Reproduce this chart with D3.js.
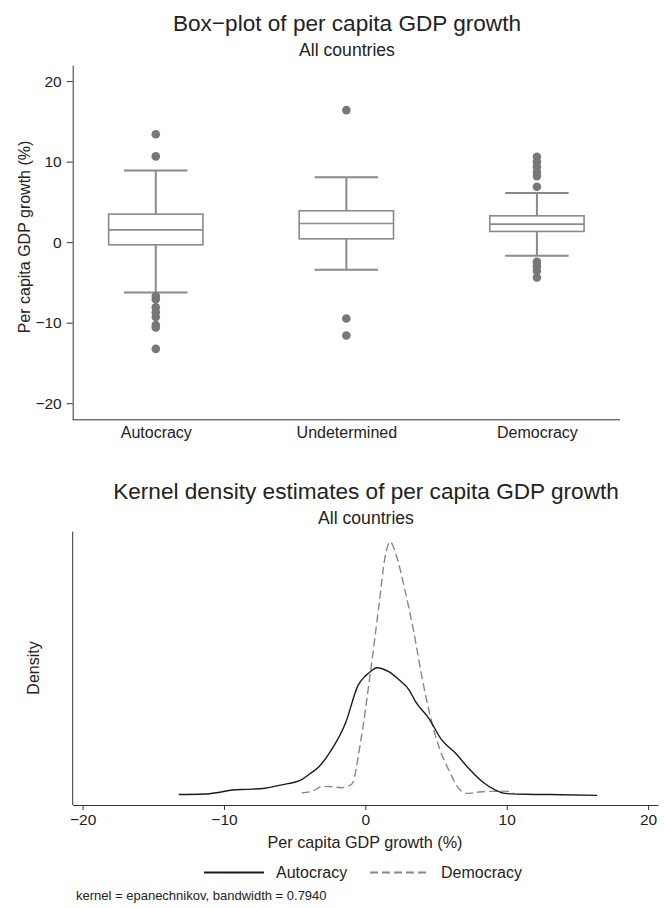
<!DOCTYPE html>
<html>
<head>
<meta charset="utf-8">
<script src="https://cdn.jsdelivr.net/npm/d3@7"></script>
<style>
  body { margin: 0; background: #fff; }
  text { font-family: "Liberation Sans", Arial, Helvetica, sans-serif; fill: #222; }
</style>
</head>
<body>
<svg id="svg" width="664" height="908"></svg>
<script>
// box-plot data (per capita GDP growth, %)
var groups = ["Autocracy", "Undetermined", "Democracy"];
var q1 = [-0.33, 0.41, 1.33];
var medians = [1.53, 2.32, 2.24];
var q3 = [3.48, 3.9, 3.27];
var whiskerLo = [-6.25, -3.44, -1.7];
var whiskerHi = [8.9, 8.07, 6.09];
var outliers = [
  [13.4, 10.65, -6.7, -7.1, -8.1, -8.7, -9.3, -10.3, -10.6, -13.25],
  [16.4, -9.48, -11.6],
  [6.87, 8.2, 8.73, 9.36, 9.98, 10.6, -2.45, -2.98, -3.56, -4.39]
];
var boxTicks = [-20, -10, 0, 10, 20];

// kernel density points
var autocracyX = [-13.2, -11.4, -10.5, -9.4, -8.4, -7.1, -6.0, -4.5, -3.9, -3.3, -2.4, -1.4, -0.5, 0.0, 0.35, 0.8, 1.65, 2.4, 3.1, 3.55, 4.5, 5.4, 6.4, 7.3, 8.3, 9.2, 9.9, 11.3, 13.0, 16.4];
var autocracyY = [0.0011, 0.0015, 0.0025, 0.0045, 0.005, 0.0058, 0.0082, 0.0123, 0.0168, 0.0217, 0.0344, 0.0546, 0.083, 0.0897, 0.0929, 0.0959, 0.0929, 0.0867, 0.0792, 0.0705, 0.0579, 0.0419, 0.0318, 0.0207, 0.0105, 0.0045, 0.002, 0.0013, 0.0011, 0.0005];
var democracyX = [-4.5, -3.8, -3.0, -2.2, -1.7, -0.95, -0.35, 0.35, 0.95, 1.4, 1.75, 2.2, 2.8, 3.4, 4.0, 4.6, 5.2, 5.9, 6.6, 7.2, 8.2, 9.0, 9.9, 10.5];
var democracyY = [0.0025, 0.0034, 0.0072, 0.0068, 0.0062, 0.009, 0.0394, 0.0917, 0.1415, 0.1789, 0.19, 0.1793, 0.1539, 0.124, 0.0891, 0.0593, 0.0369, 0.0194, 0.0058, 0.002, 0.0032, 0.0035, 0.0037, 0.002];
var densityTicks = [-20, -10, 0, 10, 20];

var svg = d3.select("#svg");
var axisColor = "#333";
var boxColor = "#8a8a8a";
var fontFamily = "Liberation Sans, Arial, sans-serif";

// ---------- top panel: box plot ----------
var boxPanel = svg.append("g");
var xBox = d3.scalePoint().domain(groups).range([72.7, 620]).padding(0.436);
var yBox = d3.scaleLinear().domain([-22, 22]).range([419.3, 65]);
var step = xBox.step();

boxPanel.append("text").attr("x", 347).attr("y", 31).attr("text-anchor", "middle")
  .style("font-size", "22.6px").text("Box\u2212plot of per capita GDP growth");
boxPanel.append("text").attr("x", 347).attr("y", 56).attr("text-anchor", "middle")
  .style("font-size", "17.6px").text("All countries");

var yAxisTop = boxPanel.append("g").attr("transform", "translate(72.7,0)")
  .call(d3.axisLeft(yBox).tickValues(boxTicks).tickSize(6).tickPadding(5).tickSizeOuter(0));
yAxisTop.select(".domain").attr("stroke", axisColor);
yAxisTop.selectAll(".tick line").attr("stroke", axisColor);
yAxisTop.selectAll(".tick text").style("font-size", "15.5px").attr("fill", "#222")
  .style("font-family", fontFamily);

var xAxisTop = boxPanel.append("g").attr("transform", "translate(0,419.3)")
  .call(d3.axisBottom(xBox).tickSize(0).tickPadding(7).tickSizeOuter(0));
xAxisTop.select(".domain").attr("stroke", axisColor).attr("d", "M72.7,0.5H620");
xAxisTop.selectAll(".tick text").style("font-size", "16px").attr("fill", "#222")
  .style("font-family", fontFamily);

boxPanel.append("text").attr("transform", "translate(30,237) rotate(-90)")
  .attr("text-anchor", "middle").style("font-size", "16px").text("Per capita GDP growth (%)");

groups.forEach(function(g, i) {
  var cx = xBox(g);
  var bw = step * 0.495, cw = step * 0.333;
  var box = boxPanel.append("g");
  // whiskers
  box.append("line").attr("x1", cx).attr("x2", cx).attr("y1", yBox(whiskerHi[i])).attr("y2", yBox(q3[i]))
    .attr("stroke", boxColor).attr("stroke-width", 2);
  box.append("line").attr("x1", cx).attr("x2", cx).attr("y1", yBox(q1[i])).attr("y2", yBox(whiskerLo[i]))
    .attr("stroke", boxColor).attr("stroke-width", 2);
  [whiskerHi[i], whiskerLo[i]].forEach(function(v) {
    box.append("line").attr("x1", cx - cw / 2).attr("x2", cx + cw / 2).attr("y1", yBox(v)).attr("y2", yBox(v))
      .attr("stroke", boxColor).attr("stroke-width", 2);
  });
  box.append("rect").attr("x", cx - bw / 2).attr("width", bw)
    .attr("y", yBox(q3[i])).attr("height", yBox(q1[i]) - yBox(q3[i]))
    .attr("fill", "#fff").attr("stroke", boxColor).attr("stroke-width", 1.6);
  box.append("line").attr("x1", cx - bw / 2).attr("x2", cx + bw / 2)
    .attr("y1", yBox(medians[i])).attr("y2", yBox(medians[i]))
    .attr("stroke", boxColor).attr("stroke-width", 1.6);
  box.selectAll("circle").data(outliers[i]).join("circle")
    .attr("cx", cx).attr("cy", function(d) { return yBox(d); }).attr("r", 4.3)
    .attr("fill", "#777");
});

// ---------- bottom panel: kernel density ----------
var densityPanel = svg.append("g");
var xDen = d3.scaleLinear().domain([-20.7, 20.7]).range([72.7, 658]);
var yDen = d3.scaleLinear().domain([-0.0067, 0.1975]).range([805, 531.7]);

densityPanel.append("text").attr("x", 366).attr("y", 499).attr("text-anchor", "middle")
  .style("font-size", "22.6px").text("Kernel density estimates of per capita GDP growth");
densityPanel.append("text").attr("x", 366).attr("y", 524).attr("text-anchor", "middle")
  .style("font-size", "17.6px").text("All countries");

densityPanel.append("line").attr("x1", 72.7).attr("x2", 72.7).attr("y1", 531.7).attr("y2", 805)
  .attr("stroke", axisColor);
var xAxisBot = densityPanel.append("g").attr("transform", "translate(0,805)")
  .call(d3.axisBottom(xDen).tickValues(densityTicks).tickSize(5).tickPadding(4).tickSizeOuter(0));
xAxisBot.select(".domain").attr("stroke", axisColor);
xAxisBot.selectAll(".tick line").attr("stroke", axisColor);
xAxisBot.selectAll(".tick text").style("font-size", "15.5px").attr("fill", "#222")
  .style("font-family", fontFamily);

densityPanel.append("text").attr("x", 365).attr("y", 848).attr("text-anchor", "middle")
  .style("font-size", "16.2px").text("Per capita GDP growth (%)");
densityPanel.append("text").attr("transform", "translate(39,668) rotate(-90)")
  .attr("text-anchor", "middle").style("font-size", "16px").text("Density");

var line = d3.line()
  .x(function(d) { return xDen(d[0]); })
  .y(function(d) { return yDen(d[1]); })
  .curve(d3.curveMonotoneX);

densityPanel.append("path").attr("d", line(d3.zip(democracyX, democracyY)))
  .attr("fill", "none").attr("stroke", "#888").attr("stroke-width", 1.4).attr("stroke-dasharray", "8,4");
densityPanel.append("path").attr("d", line(d3.zip(autocracyX, autocracyY)))
  .attr("fill", "none").attr("stroke", "#1a1a1a").attr("stroke-width", 1.4);

// legend
var legend = densityPanel.append("g");
legend.append("line").attr("x1", 204).attr("x2", 264).attr("y1", 872.5).attr("y2", 872.5)
  .attr("stroke", "#1a1a1a").attr("stroke-width", 2);
legend.append("text").attr("x", 276).attr("y", 878).style("font-size", "16px").text("Autocracy");
legend.append("line").attr("x1", 370).attr("x2", 426).attr("y1", 872.5).attr("y2", 872.5)
  .attr("stroke", "#888").attr("stroke-width", 2).attr("stroke-dasharray", "8,4");
legend.append("text").attr("x", 441).attr("y", 878).style("font-size", "16px").text("Democracy");

densityPanel.append("text").attr("x", 76).attr("y", 900).style("font-size", "13px")
  .text("kernel = epanechnikov, bandwidth = 0.7940");
</script>
</body>
</html>
